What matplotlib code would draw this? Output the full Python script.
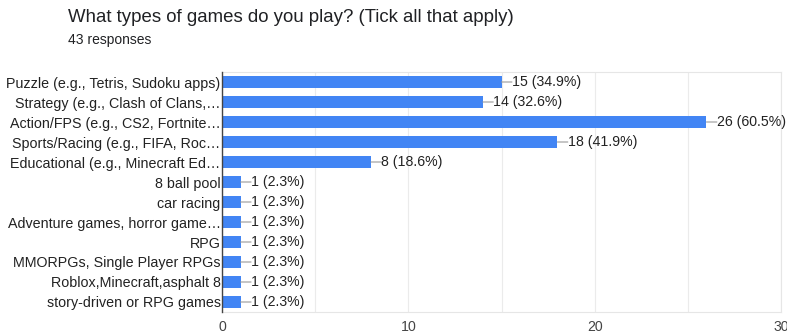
import matplotlib.pyplot as plt
from matplotlib.ticker import MultipleLocator

plt.rcParams['font.family'] = ['Liberation Sans', 'DejaVu Sans']

labels = [
    "Puzzle (e.g., Tetris, Sudoku apps)",
    "Strategy (e.g., Clash of Clans,\u2026",
    "Action/FPS (e.g., CS2, Fortnite\u2026",
    "Sports/Racing (e.g., FIFA, Roc\u2026",
    "Educational (e.g., Minecraft Ed\u2026",
    "8 ball pool",
    "car racing",
    "Adventure games, horror game\u2026",
    "RPG",
    "MMORPGs, Single Player RPGs",
    "Roblox,Minecraft,asphalt 8",
    "story-driven or RPG games",
]
counts = [15, 14, 26, 18, 8, 1, 1, 1, 1, 1, 1, 1]
total = 43

fig = plt.figure(figsize=(7.87, 3.36), dpi=100)
ax = fig.add_axes([222 / 787, 1 - 312 / 336, (781 - 222) / 787, (312 - 72) / 336])

y = list(range(len(labels)))
ax.barh(y, counts, height=0.6, color="#4285F4", zorder=3)
ax.set_ylim(len(labels) - 0.5, -0.5)
ax.set_xlim(0, 30)
ax.set_yticks(y)
ax.set_yticklabels(labels, fontsize=10.3, color="#222222")
ax.xaxis.set_major_locator(MultipleLocator(10))
ax.xaxis.set_minor_locator(MultipleLocator(5))
ax.tick_params(axis='both', which='both', length=0)
ax.tick_params(axis='y', pad=1)
ax.tick_params(axis='x', pad=6, labelsize=10.2, labelcolor="#444444")
ax.grid(axis='x', which='both', color="#ebebeb", linewidth=0.8, zorder=0)

for s in ['top', 'right', 'bottom']:
    ax.spines[s].set_color("#e6e6e6")
    ax.spines[s].set_linewidth(0.8)
ax.spines['left'].set_color("#444444")
ax.spines['left'].set_linewidth(1.0)
ax.spines['left'].set_zorder(4)

for i, c in enumerate(counts):
    ax.annotate("", xy=(c, i), xytext=(7.5, 0), textcoords='offset points',
                arrowprops=dict(arrowstyle='-', color="#999999", lw=0.8,
                                shrinkA=0, shrinkB=0))
    ax.annotate(f"{c} ({c / total * 100:.1f}%)", xy=(c, i), xytext=(7.5, 0),
                textcoords='offset points', va='center', ha='left',
                fontsize=10.2, color="#222222")

fig.text(68 / 787, 1 - 17 / 336, "What types of games do you play? (Tick all that apply)",
         fontsize=13.4, color="#202124", va='center', ha='left')
fig.text(68 / 787, 1 - 40 / 336, "43 responses", fontsize=10, color="#202124",
         va='center', ha='left')

fig.savefig("out.png", dpi=100)
